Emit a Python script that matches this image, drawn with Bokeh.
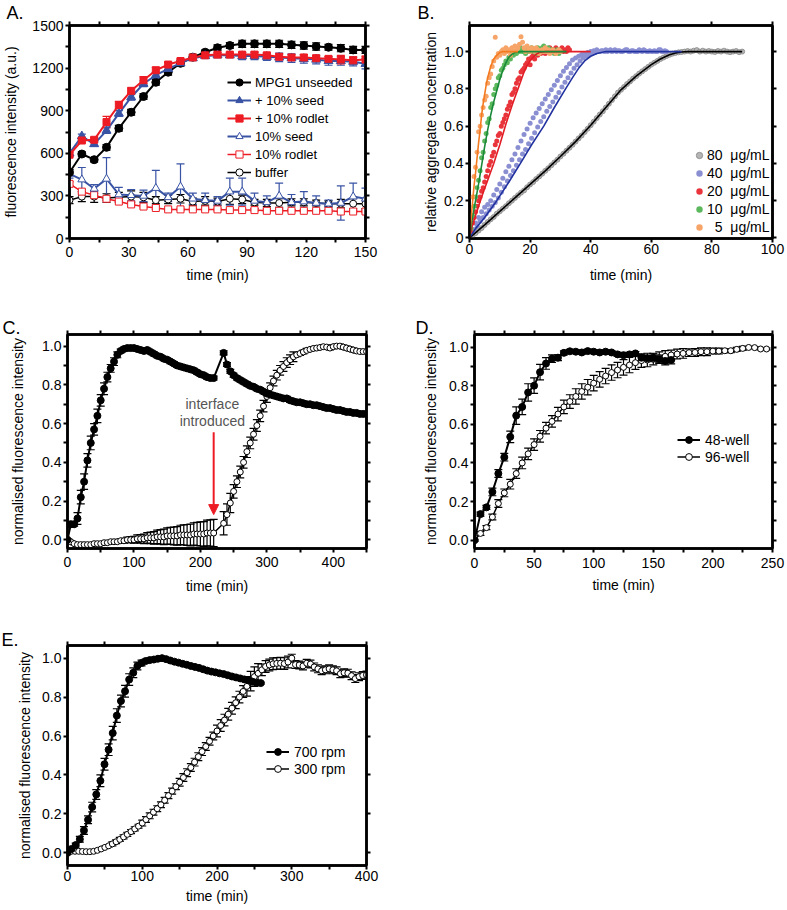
from bokeh.plotting import figure
from bokeh.models import (ColumnDataSource, Whisker, TeeHead, Legend, LegendItem, LinearAxis,
                          FixedTicker, Label, Arrow, NormalHead, Range1d, PrintfTickFormatter)
from bokeh.layouts import column, row
from bokeh.embed import file_html
from bokeh.resources import INLINE

FONT = "Liberation Sans"
BLUE = "#3953a4"
RED = "#ed1c24"

# ---------------- Panel A data ----------------
a_time = [0, 6.25, 12.5, 18.75, 25, 31.25, 37.5, 43.75, 50, 56.25, 62.5, 68.75, 75, 81.25, 87.5,
          93.75, 100, 106.25, 112.5, 118.75, 125, 131.25, 137.5, 143.75, 150]
a_unseeded = [465, 595, 555, 642, 776, 889, 1000, 1100, 1171, 1234, 1277, 1312, 1343, 1359, 1371,
              1371, 1371, 1371, 1364, 1359, 1352, 1347, 1340, 1328, 1328]
a_unseeded_err = [20, 15, 15, 20, 20, 20, 20, 20, 20, 20, 20, 15, 20, 20, 25, 25, 25, 25, 25, 25, 25, 20, 25, 25, 25]
a_seed = [600, 720, 665, 760, 880, 995, 1090, 1150, 1195, 1235, 1270, 1285, 1290, 1290, 1285,
          1285, 1280, 1275, 1270, 1265, 1260, 1250, 1250, 1245, 1230]
a_seed_err = [20, 15, 15, 20, 20, 20, 20, 20, 20, 15, 15, 15, 15, 15, 25, 25, 25, 30, 30, 30, 30, 30, 30, 30, 35]
a_rodlet = [590, 690, 695, 820, 940, 1040, 1115, 1185, 1225, 1250, 1275, 1290, 1295, 1295, 1295,
            1295, 1290, 1280, 1275, 1275, 1270, 1265, 1260, 1255, 1260]
a_rodlet_err = [15, 15, 15, 40, 25, 20, 25, 20, 15, 15, 15, 10, 15, 15, 15, 20, 15, 20, 20, 20, 15, 15, 30, 25, 25]
a_seed10 = [455, 415, 350, 420, 310, 305, 300, 355, 290, 365, 280, 270, 265, 330, 330,
            265, 255, 300, 255, 260, 250, 245, 250, 295, 280]
a_seed10_err = [30, 85, 30, 150, 50, 40, 40, 125, 30, 160, 40, 50, 30, 95, 95, 55, 45, 90, 55, 70, 50, 25, 120, 95, 75]
a_rodlet10 = [385, 330, 305, 280, 260, 240, 225, 215, 205, 205, 205, 205, 205, 200, 200,
              200, 195, 195, 195, 195, 195, 195, 190, 190, 190]
a_rodlet10_err = [15, 15, 10, 10, 10, 10, 10, 10, 8, 8, 8, 8, 8, 8, 8, 8, 8, 8, 8, 8, 8, 8, 8, 8, 8]
a_buffer = [270, 295, 295, 285, 290, 295, 290, 270, 275, 280, 260, 265, 260, 280, 275,
            255, 250, 250, 255, 255, 250, 245, 245, 245, 245]
a_buffer_err = [25, 35, 40, 30, 35, 40, 35, 25, 30, 30, 25, 30, 25, 40, 30, 20, 25, 30, 25, 25, 20, 20, 30, 35, 35]
a_labels = ["MPG1 unseeded", "+ 10% seed", "+ 10% rodlet", "10% seed", "10% rodlet", "buffer"]

# ---------------- Panel B data ----------------
b80_time = list(range(0, 91))
b80_val = [0.0, 0.012, 0.026, 0.04, 0.053, 0.07, 0.085, 0.1, 0.113, 0.13, 0.143, 0.157, 0.17, 0.186, 0.2,
           0.215, 0.229, 0.243, 0.255, 0.272, 0.287, 0.3, 0.316, 0.33, 0.345, 0.36, 0.374, 0.39, 0.405,
           0.42, 0.437, 0.452, 0.468, 0.484, 0.5, 0.517, 0.534, 0.55, 0.568, 0.586, 0.605, 0.624, 0.643,
           0.662, 0.68, 0.7, 0.72, 0.74, 0.76, 0.78, 0.795, 0.81, 0.826, 0.84, 0.855, 0.868, 0.882,
           0.894, 0.906, 0.918, 0.93, 0.94, 0.95, 0.96, 0.968, 0.976, 0.983, 0.989, 0.993, 0.996, 0.998,
           1.0, 1.003, 1.0, 1.005, 1.008, 1.0, 1.005, 1.0, 1.003, 1.0, 0.998, 1.003, 1.0, 1.005, 1.0,
           0.997, 1.0, 1.003, 0.997, 1.0]
b40a_time = list(range(0, 66))
b40a_val = [0.0, 0.04, 0.08, 0.11, 0.14, 0.165, 0.18, 0.20, 0.23, 0.26, 0.29, 0.32, 0.355, 0.385, 0.42,
            0.45, 0.485, 0.52, 0.555, 0.585, 0.615, 0.645, 0.67, 0.695, 0.72, 0.745, 0.77, 0.795, 0.82,
            0.845, 0.87, 0.895, 0.915, 0.935, 0.955, 0.965, 0.975, 0.985, 0.99, 0.995, 1.0,
            1.005, 1.01, 1.0, 1.005, 1.01, 1.005, 1.0, 1.01, 1.005, 1.0, 1.005, 1.01, 1.0, 1.005, 1.0,
            1.01, 1.0, 1.005, 1.0, 1.0, 1.005, 1.0, 1.01, 1.0, 1.0]
b40b_time = [t + 0.5 for t in range(0, 65)]
b40b_val = [0.02, 0.045, 0.065, 0.09, 0.11, 0.13, 0.15, 0.17, 0.19, 0.215, 0.245, 0.275, 0.305, 0.335,
            0.36, 0.39, 0.42, 0.45, 0.475, 0.505, 0.535, 0.565, 0.595, 0.625, 0.65, 0.68, 0.705, 0.73,
            0.755, 0.78, 0.81, 0.835, 0.86, 0.885, 0.91, 0.93, 0.95, 0.965, 0.975, 0.985, 0.99, 0.995,
            1.0, 1.005, 1.0,
            1.0, 1.01, 1.005, 1.0, 1.005, 1.0, 1.01, 1.0, 1.005, 1.0, 1.0, 1.005, 1.01, 1.0,
            1.005, 1.0, 1.0, 1.01, 1.0, 1.005]
b20_time = [i * 0.5 for i in range(67)]
b20_val = [0.0, 0.04, 0.08, 0.11, 0.14, 0.17, 0.20, 0.22, 0.25, 0.27, 0.30, 0.33, 0.36, 0.39, 0.41, 0.44,
           0.46, 0.50, 0.52, 0.55, 0.56, 0.60, 0.62, 0.64, 0.66, 0.69, 0.71, 0.73, 0.77, 0.78, 0.80, 0.83,
           0.85, 0.86, 0.89, 0.90, 0.91, 0.93, 0.94, 0.96, 0.93, 0.97, 0.98, 0.96, 0.99, 0.98, 1.0, 0.99,
           1.01, 1.0, 0.99, 1.01, 1.0, 1.02, 1.0, 1.01, 1.0, 1.02, 1.01, 1.0, 1.01, 1.02, 1.0, 1.01, 1.0,
           1.02, 1.01]
b10_time = [i * 0.5 for i in range(61)]
b10_val = [0.0, 0.05, 0.12, 0.17, 0.22, 0.27, 0.31, 0.36, 0.43, 0.46, 0.52, 0.56, 0.62, 0.64, 0.70, 0.72,
           0.77, 0.80, 0.82, 0.86, 0.87, 0.90, 0.91, 0.93, 0.95, 0.94, 0.97, 0.96, 0.99, 0.98, 1.0, 0.99,
           1.01, 1.0, 1.02, 1.0, 1.01, 0.99, 1.02, 1.0, 1.01, 1.02, 1.0, 1.01, 0.99, 1.02, 1.01, 1.0,
           1.02, 1.03, 1.01, 1.0, 1.02, 1.01, 1.0, 1.01, 0.99, 1.0, 1.01, 0.99, 1.0]
b5_time = [i * 0.5 for i in range(61)]
b5_val = [0.0, 0.12, 0.22, 0.33, 0.38, 0.46, 0.57, 0.60, 0.66, 0.70, 0.74, 0.76, 0.83, 0.86, 0.88, 0.92,
          0.95, 1.077, 0.97, 0.99, 0.98, 1.0, 1.01, 0.99, 1.02, 1.0, 1.01, 0.98, 1.02, 1.0, 1.03, 1.01,
          1.02, 1.04, 1.08, 1.05, 1.02, 1.0, 1.03, 1.01, 1.0, 1.02, 1.01, 1.0, 1.02, 1.01, 0.99, 1.0,
          1.01, 1.0, 1.02, 1.0, 1.01, 0.99, 1.0, 1.01, 1.0, 0.99, 1.0, 1.01, 1.0]
b80_fit_t = [0, 5, 10, 15, 20, 25, 30, 35, 40, 45, 50, 55, 60, 63, 66, 68, 70, 72, 75, 90]
b80_fit_v = [0, 0.07, 0.143, 0.215, 0.287, 0.36, 0.437, 0.517, 0.605, 0.7, 0.795, 0.868, 0.93, 0.96,
             0.983, 0.993, 0.998, 1.0, 1.0, 1.0]
b40_fit_t = [0, 2, 5, 9, 13, 16.8, 20.5, 24.5, 28, 31.7, 34, 36, 38, 40, 42, 45, 70]
b40_fit_v = [0, 0.05, 0.11, 0.2, 0.3, 0.4, 0.5, 0.6, 0.7, 0.8, 0.86, 0.91, 0.95, 0.975, 0.99, 1.0, 1.0]
b20_fit_t = [0, 1, 2, 3, 4, 5, 6, 7, 8, 9, 10, 11, 12, 13, 14, 15, 16, 17, 18, 19, 20, 21, 22, 23, 25, 40]
b20_fit_v = [0, 0.07, 0.12, 0.17, 0.22, 0.265, 0.31, 0.355, 0.40, 0.45, 0.50, 0.555, 0.61, 0.66, 0.71,
             0.755, 0.80, 0.845, 0.89, 0.925, 0.95, 0.97, 0.985, 0.995, 1.0, 1.0]
b10_fit_t = [0, 0.5, 1, 2, 3, 4, 5, 6, 7, 8, 9, 10, 11, 12, 13, 14, 15, 17, 32]
b10_fit_v = [0, 0.06, 0.11, 0.2, 0.29, 0.39, 0.49, 0.58, 0.66, 0.73, 0.79, 0.85, 0.9, 0.94, 0.97, 0.985,
             0.995, 1.0, 1.0]
b5_fit_t = [0, 0.5, 1, 1.5, 2, 2.5, 3, 3.5, 4, 4.5, 5, 5.5, 6, 7, 8, 9, 10, 11, 16]
b5_fit_v = [0, 0.1, 0.19, 0.28, 0.35, 0.43, 0.51, 0.58, 0.66, 0.72, 0.77, 0.82, 0.86, 0.92, 0.96, 0.98,
            0.995, 1.0, 1.0]
b_labels = ["80\u00a0\u00a0\u03bcg/mL", "40\u00a0\u00a0\u03bcg/mL", "20\u00a0\u00a0\u03bcg/mL",
            "10\u00a0\u00a0\u03bcg/mL", "\u00a0\u00a05\u00a0\u00a0\u03bcg/mL"]

# ---------------- Panel C data ----------------
c_time = list(range(0, 225, 5)) + list(range(235, 455, 5))
c_filled = [0.0, 0.08, 0.08, 0.11, 0.22, 0.30, 0.41, 0.50, 0.57, 0.64, 0.72, 0.78, 0.84, 0.885, 0.92,
            0.955, 0.975, 0.985, 0.99, 0.99, 0.99, 0.985, 0.98, 0.975, 0.98, 0.97, 0.96, 0.95, 0.945,
            0.935, 0.93, 0.92, 0.91, 0.90, 0.895, 0.89, 0.885, 0.88, 0.875, 0.865, 0.855, 0.85, 0.84,
            0.835, 0.835,
            0.965, 0.905, 0.87, 0.85, 0.835, 0.825, 0.815, 0.805, 0.795, 0.79, 0.78, 0.775, 0.765, 0.755,
            0.75, 0.745, 0.74, 0.735, 0.73, 0.73, 0.72, 0.715, 0.71, 0.71, 0.705, 0.70, 0.70, 0.695,
            0.695, 0.69, 0.685, 0.68, 0.68, 0.675, 0.67, 0.67, 0.665, 0.66, 0.66, 0.655, 0.655, 0.65,
            0.65, 0.65]
c_filled_err = [0.005, 0.015, 0.01, 0.03, 0.035, 0.04, 0.035, 0.035, 0.03, 0.035, 0.03, 0.03, 0.025, 0.02,
                0.02, 0.015, 0.01, 0.01, 0.01, 0.01, 0.01, 0.01, 0.01, 0.01, 0.01, 0.01, 0.01, 0.01, 0.01,
                0.01, 0.01, 0.01, 0.01, 0.01, 0.01, 0.01, 0.01, 0.01, 0.01, 0.01, 0.01, 0.01, 0.01, 0.01,
                0.01,
                0.01, 0.01, 0.01, 0.01, 0.01, 0.01, 0.01, 0.01, 0.01, 0.01, 0.01, 0.01, 0.01, 0.01, 0.01,
                0.01, 0.01, 0.01, 0.01, 0.01, 0.01, 0.01, 0.01, 0.01, 0.01, 0.01, 0.01, 0.01, 0.01, 0.01,
                0.01, 0.01, 0.01, 0.01, 0.01, 0.01, 0.01, 0.01, 0.01, 0.01, 0.01, 0.01, 0.01, 0.01]
c_open = [0.0, -0.01, -0.02, -0.025, -0.025, -0.025, -0.025, -0.025, -0.02, -0.02, -0.02, -0.015, -0.015,
          -0.01, -0.01, -0.01, -0.005, -0.005, 0.0, 0.0, 0.0, 0.005, 0.005, 0.005, 0.01, 0.01, 0.01,
          0.015, 0.015, 0.015, 0.02, 0.02, 0.02, 0.02, 0.025, 0.025, 0.025, 0.025, 0.03, 0.03, 0.03,
          0.03, 0.035, 0.035, 0.035,
          0.085, 0.13, 0.19, 0.25, 0.30, 0.35, 0.40, 0.455, 0.50, 0.545, 0.59, 0.64, 0.69, 0.74, 0.785,
          0.82, 0.85, 0.875, 0.895, 0.915, 0.93, 0.945, 0.955, 0.962, 0.97, 0.978, 0.983, 0.988, 0.99,
          0.993, 0.997, 0.995, 0.99, 0.997, 1.0, 1.0, 0.995, 0.99, 0.985, 0.98, 0.975, 0.972, 0.972,
          0.972]
c_open_err = [0.005, 0.005, 0.005, 0.005, 0.005, 0.005, 0.005, 0.005, 0.005, 0.005, 0.005, 0.005, 0.005,
              0.005, 0.005, 0.005, 0.01, 0.012, 0.014, 0.016, 0.018, 0.02, 0.022, 0.025, 0.027, 0.03,
              0.032, 0.035, 0.037, 0.04, 0.042, 0.044, 0.046, 0.048, 0.05, 0.052, 0.054, 0.056, 0.058,
              0.06, 0.062, 0.064, 0.066, 0.068, 0.07,
              0.06, 0.055, 0.05, 0.035, 0.03, 0.03, 0.03, 0.03, 0.03, 0.03, 0.03, 0.03, 0.03, 0.03,
              0.025, 0.025, 0.025, 0.025, 0.025, 0.025, 0.025, 0.025, 0.01, 0.01, 0.01, 0.01, 0.01, 0.01,
              0.01, 0.01, 0.01, 0.01, 0.01, 0.01, 0.01, 0.01, 0.01, 0.01, 0.01, 0.01, 0.01, 0.01, 0.01,
              0.01]

# ---------------- Panel D data ----------------
d48_time = list(range(0, 170, 5))
d48_val = [0, 0.135, 0.17, 0.25, 0.345, 0.43, 0.535, 0.645, 0.69, 0.765, 0.80, 0.87, 0.915, 0.94, 0.945,
           0.97, 0.978, 0.976, 0.972, 0.979, 0.976, 0.972, 0.976, 0.972, 0.962, 0.958, 0.962, 0.967,
           0.945, 0.942, 0.945, 0.938, 0.928, 0.933]
d48_err = [0.005, 0.01, 0.01, 0.02, 0.02, 0.02, 0.03, 0.045, 0.04, 0.045, 0.04, 0.04, 0.03, 0.02, 0.015,
           0.01, 0.01, 0.01, 0.01, 0.01, 0.01, 0.01, 0.01, 0.01, 0.01, 0.01, 0.01, 0.01, 0.015, 0.015,
           0.02, 0.02, 0.02, 0.02]
d96_time = list(range(0, 250, 5))
d96_val = [0, 0.035, 0.065, 0.12, 0.19, 0.245, 0.29, 0.345, 0.40, 0.447, 0.495, 0.538, 0.58, 0.615,
           0.653, 0.69, 0.718, 0.744, 0.77, 0.792, 0.813, 0.833, 0.85, 0.868, 0.881, 0.895, 0.907, 0.919,
           0.93, 0.933, 0.938, 0.945, 0.952, 0.959, 0.964, 0.967, 0.971, 0.972, 0.976, 0.976, 0.979,
           0.979, 0.981, 0.981, 0.988, 0.993, 0.998, 0.997, 0.99, 0.99]
d96_err = [0.005, 0.01, 0.01, 0.015, 0.02, 0.02, 0.025, 0.025, 0.03, 0.03, 0.03, 0.03, 0.03, 0.03, 0.035,
           0.035, 0.035, 0.04, 0.04, 0.04, 0.04, 0.04, 0.04, 0.04, 0.04, 0.04, 0.04, 0.035, 0.035, 0.035,
           0.03, 0.03, 0.03, 0.025, 0.025, 0.025, 0.02, 0.02, 0.02, 0.02, 0.015, 0.015, 0.01, 0.01, 0.01,
           0.01, 0.005, 0.005, 0.005, 0.005]
d_labels = ["48-well", "96-well"]

# ---------------- Panel E data ----------------
e700_time = [i * 5.5 for i in range(48)]
e700_val = [0.0, 0.02, 0.04, 0.07, 0.115, 0.17, 0.235, 0.30, 0.37, 0.455, 0.53, 0.615, 0.705, 0.78, 0.83,
            0.89, 0.925, 0.96, 0.975, 0.985, 0.99, 0.993, 0.997, 1.0, 0.995, 0.988, 0.982, 0.977, 0.971,
            0.966, 0.96, 0.955, 0.95, 0.943, 0.936, 0.931, 0.927, 0.922, 0.918, 0.912, 0.906, 0.901,
            0.896, 0.891, 0.886, 0.879, 0.874, 0.872]
e700_err = [0.005, 0.01, 0.01, 0.015, 0.02, 0.02, 0.025, 0.025, 0.03, 0.03, 0.03, 0.035, 0.035, 0.03, 0.03,
            0.03, 0.025, 0.02, 0.015, 0.01, 0.01, 0.005, 0.005, 0.005, 0.005, 0.005, 0.005, 0.005, 0.005,
            0.005, 0.005, 0.005, 0.005, 0.005, 0.005, 0.005, 0.005, 0.005, 0.005, 0.005, 0.005, 0.005,
            0.005, 0.005, 0.005, 0.005, 0.005, 0.005]
e300_time = list(range(0, 405, 5))
e300_val = [0.008, 0.008, 0.008, 0.008, 0.007, 0.006, 0.006, 0.008, 0.013, 0.02, 0.028, 0.036, 0.046,
            0.057, 0.069, 0.082, 0.095, 0.109, 0.123, 0.137, 0.153, 0.171, 0.19, 0.209, 0.227, 0.247,
            0.27, 0.294, 0.317, 0.34, 0.363, 0.387, 0.412, 0.438, 0.466, 0.494, 0.52, 0.546, 0.573, 0.6,
            0.626, 0.654, 0.682, 0.712, 0.743, 0.771, 0.80, 0.829, 0.855, 0.882, 0.905, 0.922, 0.94,
            0.957, 0.965, 0.971, 0.973, 0.974, 0.972, 0.98, 1.0, 0.967, 0.965, 0.96, 0.974, 0.97, 0.955,
            0.945, 0.935, 0.94, 0.945, 0.94, 0.935, 0.92, 0.925, 0.923, 0.91, 0.895, 0.905, 0.911, 0.914]
e300_err = [0.005, 0.005, 0.005, 0.005, 0.005, 0.005, 0.005, 0.005, 0.005, 0.005, 0.005, 0.005,
            0.01, 0.01, 0.01, 0.01, 0.01, 0.01, 0.01, 0.01,
            0.015, 0.015, 0.015, 0.015, 0.015, 0.015, 0.015, 0.015, 0.015, 0.015,
            0.02, 0.02, 0.02, 0.02, 0.02, 0.02, 0.02, 0.02, 0.02, 0.02,
            0.03, 0.03, 0.03, 0.03, 0.03, 0.03, 0.03, 0.03,
            0.05, 0.05, 0.05, 0.05,
            0.03, 0.03, 0.03, 0.03, 0.03, 0.03, 0.03, 0.03,
            0.02, 0.02, 0.02, 0.02, 0.02, 0.02, 0.02, 0.02, 0.02, 0.02, 0.02, 0.02, 0.02, 0.02, 0.02,
            0.02, 0.02, 0.02, 0.02, 0.02, 0.02]
e_labels = ["700 rpm", "300 rpm"]


# ---------------- helpers ----------------
def make_fig(w, h, bl, br, bt, bb, xr, yr, letter, letter_offset, letter_standoff):
    p = figure(width=w, height=h, x_range=Range1d(*xr), y_range=Range1d(*yr),
               output_backend="svg", toolbar_location=None,
               min_border_left=bl, min_border_right=br, min_border_top=bt, min_border_bottom=bb)
    p.grid.visible = False
    p.outline_line_color = "black"
    p.outline_line_width = 2.5
    p.background_fill_color = "white"
    p.border_fill_color = "white"
    p.title.text = letter
    p.title.align = "left"
    p.title.offset = letter_offset
    p.title.standoff = letter_standoff
    p.title.text_font = FONT
    p.title.text_font_size = "18px"
    p.title.text_font_style = "normal"
    p.title.text_color = "black"
    return p


def style_axis(ax, major, minor, fmt=None, overrides=None, label="", label_standoff=5,
               tick_standoff=2, show=True):
    ax.ticker = FixedTicker(ticks=major, minor_ticks=minor)
    ax.axis_line_color = "black"
    ax.axis_line_width = 2.5
    ax.major_tick_line_color = "black"
    ax.major_tick_line_width = 2
    ax.major_tick_in = 0
    ax.major_tick_out = 4
    ax.minor_tick_line_color = "black"
    ax.minor_tick_line_width = 2
    ax.minor_tick_in = 0
    ax.minor_tick_out = 4
    if fmt:
        ax.formatter = PrintfTickFormatter(format=fmt)
    if overrides:
        ax.major_label_overrides = overrides
    if show:
        ax.major_label_text_font = FONT
        ax.major_label_text_font_size = "14px"
        ax.major_label_text_color = "black"
        ax.major_label_standoff = tick_standoff
        ax.axis_label = label
        ax.axis_label_text_font = FONT
        ax.axis_label_text_font_size = "14px"
        ax.axis_label_text_font_style = "normal"
        ax.axis_label_text_color = "black"
        ax.axis_label_standoff = label_standoff
    else:
        ax.major_label_text_font_size = "1px"
        ax.major_label_text_color = None
        ax.major_label_standoff = 0


def setup_axes(p, xmaj, xmin, ymaj, ymin, xlabel, ylabel, xfmt=None, yfmt=None, yover=None,
               xls=5, yls=5, xts=2, yts=2):
    style_axis(p.xaxis[0], xmaj, xmin, fmt=xfmt, label=xlabel, label_standoff=xls, tick_standoff=xts)
    style_axis(p.yaxis[0], ymaj, ymin, fmt=yfmt, overrides=yover, label=ylabel, label_standoff=yls,
               tick_standoff=yts)
    top = LinearAxis()
    style_axis(top, xmaj, xmin, show=False)
    p.add_layout(top, "above")
    right = LinearAxis()
    style_axis(right, ymaj, ymin, show=False)
    p.add_layout(right, "right")


def add_series(p, x, y, err, marker, size, fill, color, lw, mlw=1.0, cap=8):
    src = ColumnDataSource(dict(x=x, y=y,
                                lo=[a - b for a, b in zip(y, err)],
                                up=[a + b for a, b in zip(y, err)]))
    p.add_layout(Whisker(source=src, base="x", lower="lo", upper="up", line_color=color, line_width=1.2,
                         upper_head=TeeHead(size=cap, line_color=color, line_width=1.2),
                         lower_head=TeeHead(size=cap, line_color=color, line_width=1.2)))
    rl = p.line("x", "y", source=src, line_color=color, line_width=lw)
    rm = p.scatter("x", "y", source=src, marker=marker, size=size, fill_color=fill, line_color=color,
                   line_width=mlw)
    return rl, rm


def make_legend(items, loc, gw, gh, standoff, size="14px", spacing=0):
    return Legend(items=items, location=loc, border_line_color=None, background_fill_alpha=0,
                  padding=0, margin=0, spacing=spacing, glyph_width=gw, glyph_height=gh, label_height=gh,
                  label_standoff=standoff, label_text_font=FONT, label_text_font_size=size,
                  label_text_color="black")


# ---------------- Panel A ----------------
pA = make_fig(395, 300, 66, 30, 25, 62, (0, 150), (0, 1500), "A.", -63, -3)
setup_axes(pA, [0, 30, 60, 90, 120, 150], [15, 45, 75, 105, 135],
           [0, 300, 600, 900, 1200, 1500], [150, 450, 750, 1050, 1350],
           "time (min)", "fluorescence intensity (a.u.)", xls=7, yls=10, xts=4, yts=2)
rb = add_series(pA, a_time, a_buffer, a_buffer_err, "circle", 7, "white", "black", 1.5)
rr10 = add_series(pA, a_time, a_rodlet10, a_rodlet10_err, "square", 7, "white", RED, 1.5)
rs10 = add_series(pA, a_time, a_seed10, a_seed10_err, "triangle", 8, "white", BLUE, 2)
ru = add_series(pA, a_time, a_unseeded, a_unseeded_err, "circle", 8, "black", "black", 2)
rs = add_series(pA, a_time, a_seed, a_seed_err, "triangle", 9, BLUE, BLUE, 2)
rr = add_series(pA, a_time, a_rodlet, a_rodlet_err, "square", 7, RED, RED, 2)
legA = make_legend([LegendItem(label=a_labels[0], renderers=list(ru)),
                    LegendItem(label=a_labels[1], renderers=list(rs)),
                    LegendItem(label=a_labels[2], renderers=list(rr)),
                    LegendItem(label=a_labels[3], renderers=list(rs10)),
                    LegendItem(label=a_labels[4], renderers=list(rr10)),
                    LegendItem(label=a_labels[5], renderers=list(rb))],
                   (158, 57), 24, 18, 4, size="13px")
pA.add_layout(legA)

# ---------------- Panel B ----------------
pB = make_fig(392, 300, 74, 15, 25, 62, (0, 100), (-0.003, 1.14), "B.", -52, -3)
setup_axes(pB, [0, 20, 40, 60, 80, 100], [], [0, 0.2, 0.4, 0.6, 0.8, 1.0], [],
           "time (min)", "relative aggregate concentration", yfmt="%.1f", yover={0: "0"},
           xls=10, yls=2, xts=1, yts=2)
g80 = pB.scatter(b80_time, b80_val, size=5, fill_color="#b5b5b5", line_color="#878787", line_width=0.8)
g40a = pB.scatter(b40a_time, b40a_val, size=5, fill_color="#8a8fd2", line_color=None)
pB.scatter(b40b_time, b40b_val, size=5, fill_color="#8a8fd2", line_color=None)
g20 = pB.scatter(b20_time, b20_val, size=5, fill_color="#e8343a", line_color=None)
g10 = pB.scatter(b10_time, b10_val, size=5, fill_color="#5cb85c", line_color=None)
g5 = pB.scatter(b5_time, b5_val, size=5, fill_color="#f7a468", line_color=None)
pB.line(b80_fit_t, b80_fit_v, line_color="black", line_width=1.6)
pB.line(b40_fit_t, b40_fit_v, line_color="#2233a0", line_width=1.6)
pB.line(b20_fit_t, b20_fit_v, line_color="#e31d25", line_width=1.6)
pB.line(b10_fit_t, b10_fit_v, line_color="#1a8a3a", line_width=1.6)
pB.line(b5_fit_t, b5_fit_v, line_color="#f47a20", line_width=1.6)
legB = make_legend([LegendItem(label=b_labels[0], renderers=[g80]),
                    LegendItem(label=b_labels[1], renderers=[g40a]),
                    LegendItem(label=b_labels[2], renderers=[g20]),
                    LegendItem(label=b_labels[3], renderers=[g10]),
                    LegendItem(label=b_labels[4], renderers=[g5])],
                   (222, 2), 16, 18, 0)
pB.add_layout(legB)

# ---------------- Panel C ----------------
pC = make_fig(395, 312, 67, 29, 34, 64, (0, 450), (-0.045, 1.06), "C.", -65, -14)
setup_axes(pC, [0, 100, 200, 300, 400], [50, 150, 250, 350, 450],
           [0, 0.2, 0.4, 0.6, 0.8, 1.0], [0.1, 0.3, 0.5, 0.7, 0.9],
           "time (min)", "normalised fluorescence intensity", yfmt="%.1f",
           xls=8, yls=13, xts=4, yts=2)
add_series(pC, c_time, c_open, c_open_err, "circle", 6, "white", "black", 1.5)
add_series(pC, c_time, c_filled, c_filled_err, "circle", 7, "black", "black", 2)
pC.add_layout(Arrow(end=NormalHead(size=10, fill_color=RED, line_color=RED), x_start=220, y_start=0.555,
                    x_end=220, y_end=0.13, line_color=RED, line_width=2))
pC.add_layout(Label(x=218, y=0.70, text="interface", text_align="center", text_baseline="middle",
                    text_font=FONT, text_font_size="14px", text_color="#555555"))
pC.add_layout(Label(x=218, y=0.612, text="introduced", text_align="center", text_baseline="middle",
                    text_font=FONT, text_font_size="14px", text_color="#555555"))

# ---------------- Panel D ----------------
pD = make_fig(392, 312, 79, 15, 34, 63, (0, 250), (-0.043, 1.065), "D.", -59, -14)
setup_axes(pD, [0, 50, 100, 150, 200, 250], [25, 75, 125, 175, 225],
           [0, 0.2, 0.4, 0.6, 0.8, 1.0], [0.1, 0.3, 0.5, 0.7, 0.9],
           "time (min)", "normalised fluorescence intensity", yfmt="%.1f",
           xls=6, yls=7, xts=5, yts=2)
r96 = add_series(pD, d96_time, d96_val, d96_err, "circle", 6, "white", "black", 1.5)
r48 = add_series(pD, d48_time, d48_val, d48_err, "circle", 7, "black", "black", 2)
legD = make_legend([LegendItem(label=d_labels[0], renderers=list(r48)),
                    LegendItem(label=d_labels[1], renderers=list(r96))], (203, 83), 23, 17, 5)
pD.add_layout(legD)

# ---------------- Panel E ----------------
pE = make_fig(395, 298, 67, 29, 33, 45, (0, 400), (-0.065, 1.065), "E.", -66, -16)
setup_axes(pE, [0, 100, 200, 300, 400], [50, 150, 250, 350],
           [0, 0.2, 0.4, 0.6, 0.8, 1.0], [],
           "time (min)", "normalised fluorescence intensity", yfmt="%.1f",
           xls=4, yls=6, xts=1, yts=2)
r300 = add_series(pE, e300_time, e300_val, e300_err, "circle", 6, "white", "black", 1.5)
r700 = add_series(pE, e700_time, e700_val, e700_err, "circle", 7, "black", "black", 2)
legE = make_legend([LegendItem(label=e_labels[0], renderers=list(r700)),
                    LegendItem(label=e_labels[1], renderers=list(r300))], (199, 88), 23, 17, 5)
pE.add_layout(legE)

layout = column(row(pA, pB), row(pC, pD), row(pE))
open("out.html", "w").write(file_html(layout, INLINE))
